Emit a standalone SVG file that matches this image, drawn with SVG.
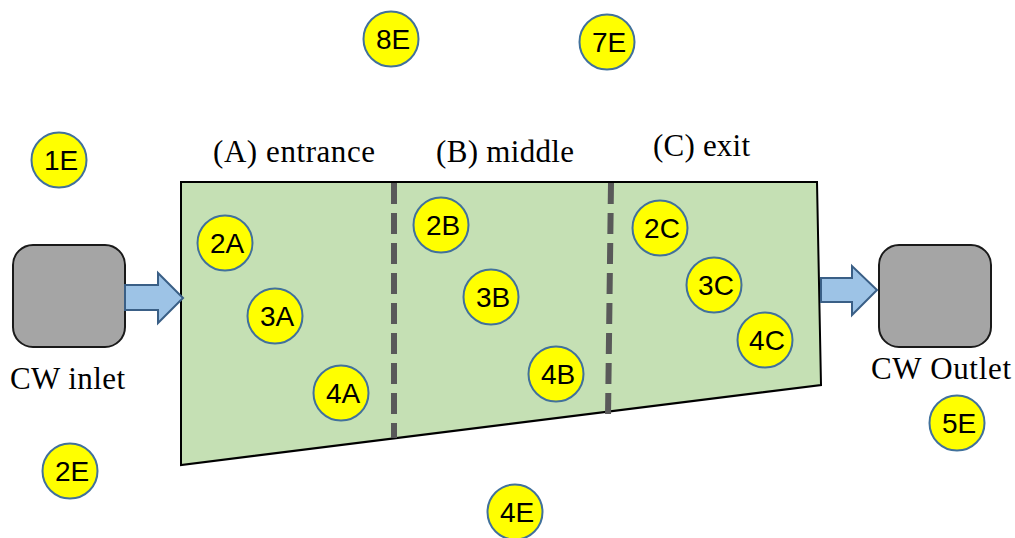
<svg xmlns="http://www.w3.org/2000/svg" width="1015" height="538" viewBox="0 0 1015 538">
<style>
.lbl{font-family:"Liberation Serif","Times New Roman",serif;font-size:31px;fill:#000}
.pt circle{fill:#FFFF00;stroke:#41719C;stroke-width:2}
.pt text{font-family:"Liberation Sans",Arial,sans-serif;font-size:28px;fill:#000;text-anchor:middle}
.box{fill:#A5A5A5;stroke:#1a1a1a;stroke-width:2}
.arr{fill:#9DC3E6;stroke:#3A5F86;stroke-width:2;stroke-linejoin:miter}
.dash{stroke:#595959;stroke-width:6;stroke-dasharray:21 9;fill:none}
</style>
<rect width="1015" height="538" fill="#fff"/>
<g id="wetland">
<polygon points="181,182 817,182 821,385 181,465" fill="#C5E0B4" stroke="#000" stroke-width="2"/>
<line class="dash" x1="394" y1="183" x2="394" y2="438"/>
<line class="dash" x1="611" y1="183" x2="608" y2="417"/>
<text class="lbl" x="213" y="162" textLength="162" lengthAdjust="spacing">(A) entrance</text>
<text class="lbl" x="436" y="162" textLength="138" lengthAdjust="spacing">(B) middle</text>
<text class="lbl" x="653" y="156" textLength="97" lengthAdjust="spacing">(C) exit</text>
</g>
<g id="inlet">
<rect class="box" x="13" y="245" width="112" height="102" rx="20"/>
<text class="lbl" x="10" y="389" textLength="115" lengthAdjust="spacing">CW inlet</text>
</g>
<g id="outlet">
<rect class="box" x="879" y="245" width="112" height="102" rx="20"/>
<text class="lbl" x="871" y="379" textLength="140" lengthAdjust="spacing">CW Outlet</text>
</g>
<g id="connectors">
<polygon class="arr" points="125,285 158,285 158,273 183,298 158,323 158,310 125,310"/>
<polygon class="arr" points="821,278 852,278 852,266 877,290 852,315 852,302 821,302"/>
</g>
<g id="p1E" class="pt"><circle cx="59" cy="160" r="27.5"/><text x="61" y="170">1E</text></g>
<g id="p2E" class="pt"><circle cx="70" cy="471" r="27.5"/><text x="72" y="481">2E</text></g>
<g id="p8E" class="pt"><circle cx="391" cy="39" r="27.5"/><text x="393" y="49">8E</text></g>
<g id="p7E" class="pt"><circle cx="607" cy="42" r="27.5"/><text x="609" y="52">7E</text></g>
<g id="p4E" class="pt"><circle cx="515" cy="512" r="27.5"/><text x="517" y="522">4E</text></g>
<g id="p5E" class="pt"><circle cx="957" cy="423" r="27.5"/><text x="959" y="433">5E</text></g>
<g id="p2A" class="pt"><circle cx="225" cy="243" r="27.5"/><text x="227" y="253">2A</text></g>
<g id="p3A" class="pt"><circle cx="275" cy="316" r="27.5"/><text x="277" y="326">3A</text></g>
<g id="p4A" class="pt"><circle cx="341" cy="393" r="27.5"/><text x="343" y="403">4A</text></g>
<g id="p2B" class="pt"><circle cx="441" cy="225" r="27.5"/><text x="443" y="235">2B</text></g>
<g id="p3B" class="pt"><circle cx="491" cy="297" r="27.5"/><text x="493" y="307">3B</text></g>
<g id="p4B" class="pt"><circle cx="556" cy="374" r="27.5"/><text x="558" y="384">4B</text></g>
<g id="p2C" class="pt"><circle cx="660" cy="228" r="27.5"/><text x="662" y="238">2C</text></g>
<g id="p3C" class="pt"><circle cx="714" cy="285" r="27.5"/><text x="716" y="295">3C</text></g>
<g id="p4C" class="pt"><circle cx="765" cy="340" r="27.5"/><text x="767" y="350">4C</text></g>
</svg>
